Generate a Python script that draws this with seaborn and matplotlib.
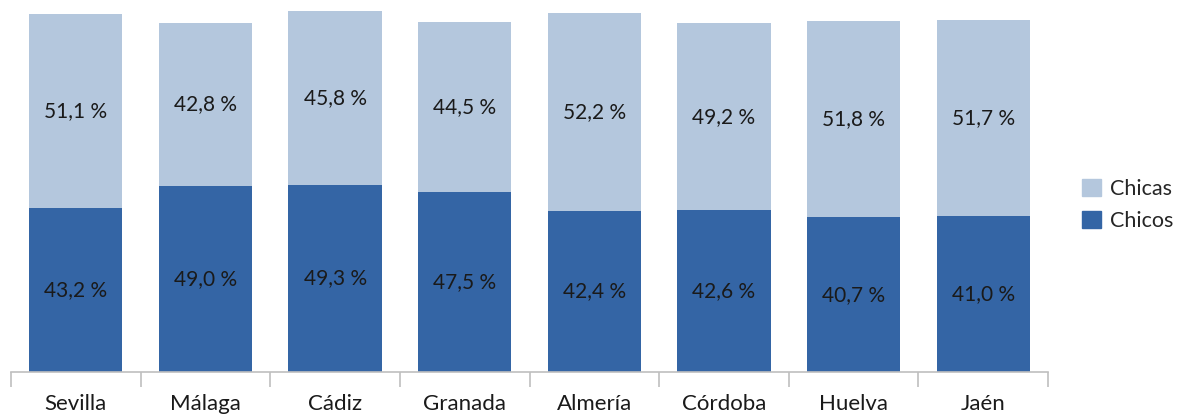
import pandas as pd
import matplotlib.pyplot as plt
import seaborn as sns
from matplotlib.patches import Patch

# ==========================
# Datos
# ==========================
provincias = ['Sevilla', 'Málaga', 'Cádiz', 'Granada', 'Almería', 'Córdoba', 'Huelva', 'Jaén']
chicos = [43.2, 49.0, 49.3, 47.5, 42.4, 42.6, 40.7, 41.0]
chicas = [51.1, 42.8, 45.8, 44.5, 52.2, 49.2, 51.8, 51.7]

df = pd.DataFrame({'provincia': provincias, 'chicos': chicos, 'chicas': chicas})
df['total'] = df['chicos'] + df['chicas']

color_chicos = '#3465A5'
color_chicas = '#B4C7DD'

sns.set_style('white')
plt.rcParams['font.family'] = ['Lato', 'DejaVu Sans']

fig = plt.figure(figsize=(11.82, 4.18), dpi=100)
ax = fig.add_axes([11 / 1182, 46 / 418, (1048 - 11) / 1182, 372 / 418])

# Barras apiladas: total (chicas arriba) y chicos abajo
sns.barplot(data=df, x='provincia', y='total', color=color_chicas, width=0.72,
            saturation=1, linewidth=0, ax=ax)
sns.barplot(data=df, x='provincia', y='chicos', color=color_chicos, width=0.72,
            saturation=1, linewidth=0, ax=ax)

# Etiquetas de porcentaje
for i, fila in df.iterrows():
    ax.text(i, fila['chicos'] / 2, f"{fila['chicos']:.1f} %".replace('.', ','),
            ha='center', va='center', fontsize=15, color='#1a1a1a')
    ax.text(i, fila['chicos'] + fila['chicas'] / 2,
            f"{fila['chicas']:.1f} %".replace('.', ','),
            ha='center', va='center', fontsize=15, color='#1a1a1a')

ax.set_ylim(0, 97.9)
ax.set_xlim(-0.5, len(provincias) - 0.5)
ax.set_xlabel('')
ax.set_ylabel('')
ax.set_yticks([])

for lado in ['top', 'right', 'left']:
    ax.spines[lado].set_visible(False)
ax.spines['bottom'].set_color('#BFBFBF')
ax.spines['bottom'].set_linewidth(1.2)

ax.set_xticks(range(len(provincias)))
ax.set_xticklabels(provincias, fontsize=16, color='#1a1a1a')
ax.tick_params(axis='x', which='major', length=0, pad=16)
ax.set_xticks([i - 0.5 for i in range(len(provincias) + 1)], minor=True)
ax.tick_params(axis='x', which='minor', bottom=True, length=11, width=1.2,
               color='#BFBFBF', direction='out')

# Leyenda
handles = [Patch(color=color_chicas, label='Chicas'),
           Patch(color=color_chicos, label='Chicos')]
fig.legend(handles=handles, loc='center left', bbox_to_anchor=(1063 / 1182, 1 - 205 / 418),
           frameon=False, fontsize=15.5, handlelength=0.85, handleheight=0.85,
           handletextpad=0.45, labelspacing=0.55)

plt.savefig('out.png', dpi=100)
